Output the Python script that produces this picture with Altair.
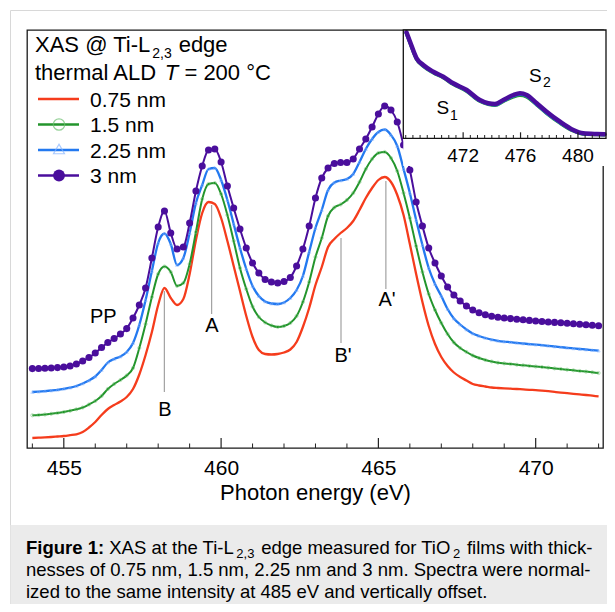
import altair as alt
import pandas as pd

# ---------------- values ----------------
ENERGY = [454.0, 454.2, 454.4, 454.6, 454.8, 455.0, 455.2, 455.4, 455.6, 455.8,
          456.0, 456.2, 456.4, 456.6, 456.8, 457.0, 457.2, 457.4, 457.6, 457.8,
          458.0, 458.2, 458.4, 458.6, 458.8, 459.0, 459.2, 459.4, 459.6, 459.8,
          460.0, 460.2, 460.4, 460.6, 460.8, 461.0, 461.2, 461.4, 461.6, 461.8,
          462.0, 462.2, 462.4, 462.6, 462.8, 463.0, 463.2, 463.4, 463.6, 463.8,
          464.0, 464.2, 464.4, 464.6, 464.8, 465.0, 465.2, 465.4, 465.6, 465.8,
          466.0, 466.2, 466.4, 466.6, 466.8, 467.0, 467.2, 467.4, 467.6, 467.8,
          468.0, 468.2, 468.4, 468.6, 468.8, 469.0, 469.2, 469.4, 469.6, 469.8,
          470.0, 470.2, 470.4, 470.6, 470.8, 471.0, 471.2, 471.4, 471.6, 471.8,
          472.0]

# intensity (a.u., vertically offset)
INT_075 = [10, 10.3, 10.6, 11, 11.5, 12, 12.8, 13.7, 16, 20.5,
           26, 33, 39, 43, 46.5, 51, 59, 73.5, 93, 116,
           143, 160, 150, 143, 149, 174, 208, 235, 246, 244,
           230, 207, 182, 157, 132, 111, 98, 94, 93.5, 94,
           95.5, 98.5, 106, 121, 140, 163, 181, 201, 209, 215,
           220, 227, 238, 250, 260, 268, 271, 266, 253, 233,
           204, 174, 146, 122, 104, 91, 82, 75.5, 71, 67.5,
           64, 62.5, 61.5, 60.5, 60, 59.6, 59.3, 59, 58.6, 58.2,
           57.9, 57.4, 56.8, 56.1, 55.4, 54.8, 54.2, 53.6, 53, 52.3,
           51.6]
INT_150 = [32.7, 33, 33.5, 34.2, 35, 36, 37.2, 38.7, 40.5, 43.5,
           47, 52, 59, 64, 68, 72.5, 80, 100, 124, 151,
           174, 181.5, 176, 162, 165, 184, 216, 249, 264, 265,
           254, 233, 207, 180, 159, 141.5, 131, 125.5, 122.5, 121,
           122, 125, 132, 146, 166, 191, 210, 232, 240.5, 243.5,
           248, 255, 266, 279, 289, 295, 296, 290, 277, 255,
           230, 202, 176, 154, 138, 125, 114, 105.5, 100, 96,
           92.5, 90, 88, 86.5, 85.3, 84.6, 84, 83.3, 82.7, 82.1,
           81.5, 80.9, 80.3, 79.6, 79, 78.3, 77.7, 77, 76.4, 75.7,
           75]
INT_225 = [56, 56.4, 56.9, 57.5, 58.2, 59.2, 60.4, 62, 64.5, 67.5,
           71.5, 78, 85.5, 89, 91.5, 96, 105, 123, 148, 177,
           205, 214.5, 204, 183, 190, 215, 245, 263, 279, 280,
           268, 248, 224, 200, 179, 162, 152, 146.5, 144.5, 144,
           145.5, 150, 158, 172, 196, 220, 238, 258, 265.5, 267.5,
           269, 274, 286, 299, 309, 316, 318.5, 313, 302, 279,
           255, 228, 203, 180, 164, 152, 139, 129.5, 123.5, 118.5,
           114.5, 112, 110, 108.3, 107.2, 106.4, 105.8, 105.1, 104.5, 103.9,
           103.4, 102.8, 102.2, 101.5, 100.9, 100.2, 99.6, 99, 98.5, 97.9,
           97.4]
INT_300 = [79.4, 79.5, 79.7, 80, 80.4, 81, 82, 84, 87, 90.5,
           95, 100.5, 105.5, 109.5, 114, 119.4, 130, 143, 160, 190,
           221, 237, 215, 199, 201, 225, 257, 282, 298, 299,
           286, 262, 240, 219, 200, 185, 175, 168.5, 166, 165,
           166.5, 170.5, 182, 199, 222, 250, 270, 280, 284.5, 285.5,
           285.5, 289, 299, 309, 321, 334, 342, 338, 326, 303,
           278, 246, 222, 200, 185, 172, 161, 153, 147, 142,
           138, 135.3, 133.3, 131.8, 130.7, 130, 129.4, 128.8, 128.2, 127.6,
           127, 126.5, 126, 125.6, 125.2, 124.8, 124.3, 123.8, 123.3, 122.8,
           122.3]

INSET_ENERGY = [468.05, 468.30, 468.76, 469.22, 469.92, 470.62, 471.31, 472.25,
                473.17, 473.75, 474.22, 474.80, 475.50, 475.96, 476.43, 477.13,
                477.82, 478.75, 479.68, 480.37, 481.31, 481.85]
INSET_300 = [106, 96.6, 80, 73.3, 66.6, 61.6, 55, 48.3, 38.3, 35, 34.3, 38.3,
             43.3, 45, 43.3, 35, 26.6, 16.6, 8.3, 5, 4.3, 4.1]
INSET_225 = [105, 96, 79.5, 72.5, 66, 61, 54.5, 47.5, 37.5, 34.5, 33.5, 37.5,
             42.5, 44, 42.5, 34, 25.5, 15.8, 7.8, 4.6, 4, 3.8]
INSET_150 = [105, 95.5, 79, 72, 65.5, 60.5, 54, 47, 37, 34, 33, 37,
             41.5, 43, 41.5, 33.5, 25, 15.2, 7.3, 4.2, 3.7, 3.5]

SERIES = ["0.75 nm", "1.5 nm", "2.25 nm", "3 nm"]
MAIN_MAJOR = [455, 460, 465, 470]
MAIN_MINOR = [454, 456, 457, 458, 459, 461, 462, 463, 464, 466, 467, 468,
              469, 471, 472]
INSET_MAJOR = [472, 476, 480]
INSET_MINOR = [468.0, 468.5, 469.0, 469.5, 470.0, 470.5, 471.0, 471.5, 472.5,
               473.0, 473.5, 474.0, 474.5, 475.0, 475.5, 476.5, 477.0, 477.5,
               478.0, 478.5, 479.0, 479.5, 480.5, 481.0, 481.5]

# ---------------- layout / style ----------------
FONT = "Liberation Sans"
W, H = 576, 418
OX, OY = 27, 30          # page position of the plot area's top-left corner

RED = "#f53c1c"
GREEN = "#23952c"
BLUE = "#2379f0"
PURPLE = "#4a0e9c"
GREEN_M = "#6cc070"
BLUE_M = "#86b5ff"
LEAD = "#8f8f8f"

ARIAL = {' ': 278, '!': 278, '(': 333, ')': 333, ',': 278, '-': 333, '.': 278,
         ':': 278, '@': 1015, '=': 584, '°': 400, "'": 191}
for c in "0123456789":
    ARIAL[c] = 556
ARIAL.update(dict(zip("ABCDEFGHIJKLMNOPQRSTUVWXYZ",
                      [667, 667, 722, 722, 667, 611, 778, 722, 278, 500, 667, 556, 833,
                       722, 778, 667, 778, 722, 667, 611, 722, 667, 944, 667, 667, 611])))
ARIAL.update(dict(zip("abcdefghijklmnopqrstuvwxyz",
                      [556, 556, 500, 556, 556, 278, 556, 556, 222, 222, 500, 222, 833,
                       556, 556, 556, 556, 333, 500, 278, 556, 500, 722, 500, 500, 500])))
ARIAL_B = dict(ARIAL)
ARIAL_B.update({'g': 611, 'u': 611, 'r': 389, ':': 333, 'i': 278})


def tw(s, size, bold=False):
    table = ARIAL_B if bold else ARIAL
    return sum(table.get(ch, 556) for ch in s) * size / 1000.0


def px(x):
    return x - OX


def py(y):
    return y - OY


ONE = pd.DataFrame({"k": [0]})


def label(text, x, y, size, align="left", baseline="alphabetic",
          weight="normal", style="normal", color="black"):
    return alt.Chart(ONE).mark_text(
        text=text, font=FONT, fontSize=size, fontWeight=weight, fontStyle=style,
        color=color, align=align, baseline=baseline
    ).encode(x=alt.value(px(x)), y=alt.value(py(y)))


def box(x1, y1, x2, y2, **kw):
    return alt.Chart(ONE).mark_rect(**kw).encode(
        x=alt.value(px(x1)), x2=alt.value(px(x2)),
        y=alt.value(py(y1)), y2=alt.value(py(y2)))


def vline(x, y1, y2, color=LEAD, width=1.0):
    return alt.Chart(ONE).mark_rule(color=color, strokeWidth=width).encode(
        x=alt.value(px(x)), y=alt.value(py(y1)), y2=alt.value(py(y2)))


def pieces(parts, x, y, gap=0.8):
    """Lay out a run of text pieces (text, size, weight, dy) left to right."""
    out = []
    for text, size, wgt, dy in parts:
        lead = len(text) - len(text.lstrip(" "))
        x += tw(" " * lead, size)
        body = text.strip(" ")
        if dy:
            x += gap
        out.append(label(body, x, y + dy, size, weight=wgt))
        x += tw(body, size, bold=(wgt == "bold"))
        if dy:
            x += gap
        trail = len(text) - len(text.rstrip(" "))
        x += tw(" " * trail, size)
    return out


# ---------------- main panel ----------------
XS = alt.Scale(domain=[453.83, 472.14], nice=False, zero=False)
YS = alt.Scale(domain=[0, H], nice=False, zero=False)
XAXIS = alt.Axis(values=MAIN_MAJOR, format="d", ticks=False, tickSize=0,
                 domain=False, grid=False, labelFont=FONT, labelFontSize=21,
                 labelColor="black", labelPadding=9, labelFlush=False,
                 title="Photon energy (eV)", titleFont=FONT, titleFontSize=22,
                 titleFontWeight="normal", titleColor="black", titlePadding=4)


def mx(field):
    return alt.X(f"{field}:Q", scale=XS, axis=XAXIS)


def my(field):
    return alt.Y(f"{field}:Q", scale=YS, axis=None)


main_layers = []
# page frame and caption background
main_layers.append(box(10.5, 10.5, 900, 900, fillOpacity=0, stroke="#d8d8d8", strokeWidth=1))
main_layers.append(box(10.5, 525, 900, 900, color="#ebebeb"))

curves = {}
for name, vals in zip(SERIES, [INT_075, INT_150, INT_225, INT_300]):
    curves[name] = alt.Chart(pd.DataFrame({"energy": ENERGY, "intensity": vals})).encode(
        x=mx("energy"), y=my("intensity"))

main_layers += [
    curves["0.75 nm"].mark_line(color=RED, strokeWidth=2.3, interpolate="monotone"),
    curves["1.5 nm"].mark_line(color=GREEN, strokeWidth=2.0, interpolate="monotone"),
    curves["1.5 nm"].mark_point(shape="circle", filled=False, size=10, color=GREEN_M, strokeWidth=0.7),
    curves["2.25 nm"].mark_line(color=BLUE, strokeWidth=2.3, interpolate="monotone"),
    curves["2.25 nm"].mark_point(shape="triangle-up", filled=False, size=10, color=BLUE_M, strokeWidth=0.7),
    curves["3 nm"].mark_line(color=PURPLE, strokeWidth=2.0, interpolate="monotone"),
    curves["3 nm"].mark_circle(color=PURPLE, size=50, opacity=1),
]

# axis ticks (pointing inwards)
main_layers.append(alt.Chart(pd.DataFrame({"tick": MAIN_MINOR})).mark_rule(
    color="#222", strokeWidth=1).encode(x=mx("tick"), y=alt.value(H), y2=alt.value(H - 4.5)))
main_layers.append(alt.Chart(pd.DataFrame({"tick": MAIN_MAJOR})).mark_rule(
    color="#222", strokeWidth=1.2).encode(x=mx("tick"), y=alt.value(H), y2=alt.value(H - 10)))

# peak annotations
main_layers += [
    vline(164.3, 291, 392), vline(211.7, 205, 314), vline(341, 238, 343), vline(385.9, 181, 289),
    label("PP", 103.3, 316.5, 20, align="center", baseline="middle"),
    label("B", 165, 410, 20, align="center", baseline="middle"),
    label("A", 212, 325.5, 20, align="center", baseline="middle"),
    label("B'", 343, 355.5, 20, align="center", baseline="middle"),
    label("A'", 387, 299.5, 20, align="center", baseline="middle"),
]

# legend block
x0 = 35
main_layers += pieces([("XAS @ Ti-L", 22, "normal", 0), ("2,3", 14, "normal", 5.5),
                       (" edge", 22, "normal", 0)], x0, 52)
main_layers.append(label("thermal ALD", x0, 80, 22))
xT = x0 + tw("thermal ALD ", 22) + 1.5
main_layers.append(label("T", xT, 80, 22, style="italic"))
main_layers.append(label("= 200 °C", xT + tw("T ", 22), 80, 22))

leg_y = [99, 124.5, 150, 175.5]
leg_col = [RED, GREEN, BLUE, PURPLE]
for i, name in enumerate(SERIES):
    yc = leg_y[i]
    main_layers.append(alt.Chart(ONE).mark_rule(color=leg_col[i], strokeWidth=2.3).encode(
        x=alt.value(px(38)), x2=alt.value(px(79)), y=alt.value(py(yc))))
    if i == 1:
        main_layers.append(alt.Chart(ONE).mark_point(shape="circle", filled=False, size=130,
                                                     color=GREEN_M, strokeWidth=1.2).encode(
            x=alt.value(px(59)), y=alt.value(py(yc))))
    if i == 2:
        main_layers.append(alt.Chart(ONE).mark_point(shape="triangle-up", filled=False, size=120,
                                                     color=BLUE_M, strokeWidth=1.2).encode(
            x=alt.value(px(59)), y=alt.value(py(yc - 1))))
    if i == 3:
        main_layers.append(alt.Chart(ONE).mark_circle(color=PURPLE, size=140, opacity=1).encode(
            x=alt.value(px(59)), y=alt.value(py(yc))))
    main_layers.append(label(name, 90, yc + 7.5, 21))

# caption
cx, cs, sub = 26, 18.5, 13
main_layers += pieces([("Figure 1:", cs, "bold", 0), (" XAS at the Ti-L", cs, "normal", 0),
                       ("2,3", sub, "normal", 4), (" edge measured for TiO", cs, "normal", 0),
                       ("2", sub, "normal", 4), (" films with thick-", cs, "normal", 0)], cx, 554,
                      gap=1.6)
main_layers.append(label("nesses of 0.75 nm, 1.5 nm, 2.25 nm and 3 nm. Spectra were normal-", cx, 576, cs))
main_layers.append(label("ized to the same intensity at 485 eV and vertically offset.", cx, 598, cs))

main = alt.layer(*main_layers)

# ---------------- inset ----------------
IX1, IX2 = 403.3, 606.0
XIS = alt.Scale(domain=[467.83, 467.83 + (IX2 - IX1) / 14.35], range=[px(IX1), px(IX2)],
                nice=False, zero=False)
YIS = alt.Scale(domain=[0, 108.3], range=[py(138.3), py(30)], nice=False, zero=False)


def ix(field):
    return alt.X(f"{field}:Q", scale=XIS, axis=None)


def iy(field):
    return alt.Y(f"{field}:Q", scale=YIS, axis=None)


inset_layers = [
    box(IX1, 30, 620, 166, color="white"),
]
for vals, color, width in [(INSET_150, GREEN, 3.5), (INSET_225, BLUE, 3.5), (INSET_300, PURPLE, 4.5)]:
    inset_layers.append(alt.Chart(pd.DataFrame({"energy": INSET_ENERGY, "intensity": vals})).mark_line(
        color=color, strokeWidth=width, interpolate="monotone", strokeCap="round").encode(
        x=ix("energy"), y=iy("intensity")))
inset_layers += [
    box(IX1, 30, IX2, 138.3, fillOpacity=0, stroke="#111", strokeWidth=1.3),
    alt.Chart(pd.DataFrame({"tick": INSET_MINOR})).mark_rule(color="#222", strokeWidth=1).encode(
        x=ix("tick"), y=alt.value(py(138.3)), y2=alt.value(py(135))),
    alt.Chart(pd.DataFrame({"tick": INSET_MAJOR})).mark_rule(color="#222", strokeWidth=1.2).encode(
        x=ix("tick"), y=alt.value(py(138.3)), y2=alt.value(py(132.3))),
    alt.Chart(pd.DataFrame({"tick": INSET_MAJOR, "lab": [str(v) for v in INSET_MAJOR]})).mark_text(
        font=FONT, fontSize=19, color="black", align="center", baseline="middle").encode(
        x=ix("tick"), y=alt.value(py(155.5)), text="lab:N"),
    label("S", 436.5, 113.5, 19),
    label("1", 450, 120, 14),
    label("S", 529, 82, 19),
    label("2", 543, 87, 14),
]
inset = alt.layer(*inset_layers)

chart = alt.layer(main, inset).resolve_scale(x="independent", y="independent").properties(
    width=W, height=H,
    autosize=alt.AutoSizeParams(type="none"),
    padding={"left": 19, "top": 22, "right": 4, "bottom": 156},
).configure_view(stroke="#1a1a1a", strokeWidth=1.3)

chart.save("out.html", embed_options={"renderer": "svg", "actions": False})
